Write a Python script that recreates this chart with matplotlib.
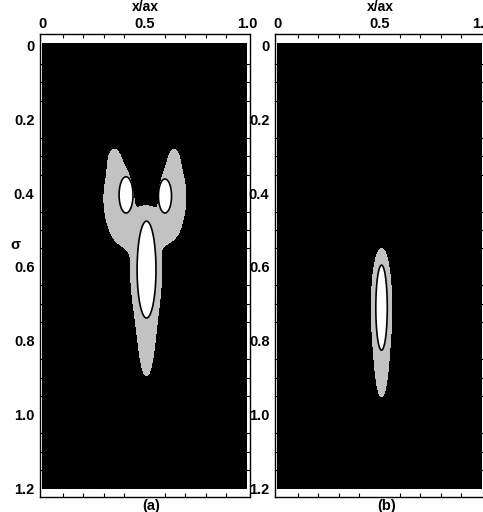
# two panels of sigma vs x/ax: black background, grey band, white cores

# %% imports
import numpy as np
import matplotlib
matplotlib.use("Agg")
import matplotlib.pyplot as plt
from matplotlib.ticker import MultipleLocator


# %% inputs (x/ax, sigma, semi-axes, shape power)
# panel (a) white cores
a_white_x = [0.41, 0.60, 0.51]
a_white_s = [0.405, 0.408, 0.607]
a_white_ax = [0.034, 0.032, 0.046]
a_white_as = [0.049, 0.046, 0.131]
# panel (a) grey region pieces
a_gray_x = [0.37, 0.64, 0.352, 0.645, 0.51, 0.508, 0.51, 0.42, 0.60]
a_gray_s = [0.415, 0.41, 0.315, 0.315, 0.475, 0.61, 0.77, 0.50, 0.495]
a_gray_ax = [0.068, 0.062, 0.025, 0.022, 0.06, 0.075, 0.03, 0.05, 0.045]
a_gray_as = [0.095, 0.09, 0.03, 0.03, 0.03, 0.15, 0.11, 0.035, 0.03]
a_gray_pw = [2, 2, 1, 1, 2, 1, 1, 1, 1]

# panel (b)
b_white_x = [0.51]
b_white_s = [0.71]
b_white_ax = [0.028]
b_white_as = [0.115]
b_gray_x = [0.51, 0.51]
b_gray_s = [0.71, 0.85]
b_gray_ax = [0.05, 0.02]
b_gray_as = [0.16, 0.075]
b_gray_pw = [1, 1]

x_ticks = [0, 0.5, 1.0]
x_labels = ['0', '0.5', '1.0']
s_ticks = [0, 0.2, 0.4, 0.6, 0.8, 1.0, 1.2]
s_labels = ['0', '0.2', '0.4', '0.6', '0.8', '1.0', '1.2']
panel_tags = ['(a)', '(b)']

font = {'family': 'Liberation Sans', 'weight': 'bold', 'size': 10.5}


# %% grid
xg = np.linspace(0, 1, 400)
sg = np.linspace(-0.005, 1.2, 480)
X, S = np.meshgrid(xg, sg)


def gray_field(cx, cs, rx, rs, pw):
    g = np.zeros_like(X)
    for x0, s0, a, b, p in zip(cx, cs, rx, rs, pw):
        r2 = ((X - x0) / a) ** 2 + ((S - s0) / b) ** 2
        g += np.exp(-np.log(2) * r2 ** p)
    return g


def white_field(cx, cs, rx, rs):
    w = np.full_like(X, -10.0)
    for x0, s0, a, b in zip(cx, cs, rx, rs):
        r2 = ((X - x0) / a) ** 2 + ((S - s0) / b) ** 2
        w = np.maximum(w, 1 - r2)
    return w


panels = [
    ((a_gray_x, a_gray_s, a_gray_ax, a_gray_as, a_gray_pw),
     (a_white_x, a_white_s, a_white_ax, a_white_as)),
    ((b_gray_x, b_gray_s, b_gray_ax, b_gray_as, b_gray_pw),
     (b_white_x, b_white_s, b_white_ax, b_white_as)),
]


# %% plot
fig = plt.figure(figsize=(4.83, 5.12), dpi=100)
lefts = [40 / 483, 275 / 483]
w_ax = 210 / 483
b_ax = 1 - 497 / 512
h_ax = (497 - 34) / 512

for i, (gp, wp) in enumerate(panels):
    ax = fig.add_axes([lefts[i], b_ax, w_ax, h_ax])
    G = gray_field(*gp)
    W = white_field(*wp)

    ax.imshow(np.zeros((2, 2)), cmap='gray', vmin=0, vmax=1,
              extent=[0, 1, 1.2, -0.005], aspect='auto', zorder=0)
    ax.contourf(X, S, G, levels=[0.5, 100], colors=['#c2c2c2'], zorder=1)
    ax.contourf(X, S, W, levels=[0, 10], colors=['white'], zorder=2)
    ax.contour(X, S, W, levels=[0], colors='black', linewidths=1.2, zorder=3)

    ax.set_xlim(-0.01, 1.015)
    ax.set_ylim(1.222, -0.03)

    ax.xaxis.tick_top()
    ax.set_xticks(x_ticks)
    ax.set_xticklabels(x_labels, fontdict=font)
    ax.set_yticks(s_ticks)
    ax.set_yticklabels(s_labels, fontdict=font)
    ax.xaxis.set_minor_locator(MultipleLocator(0.1))
    ax.yaxis.set_minor_locator(MultipleLocator(0.05))
    ax.tick_params(which='both', direction='in', top=True, bottom=True,
                   left=True, right=True, length=3, width=0.8)
    ax.tick_params(which='major', length=0)
    ax.tick_params(axis='x', pad=2)
    ax.tick_params(axis='y', pad=4)
    for sp in ax.spines.values():
        sp.set_linewidth(1.0)

    ax.text(0.5, 1.044, 'x/ax', transform=ax.transAxes, ha='center',
            va='bottom', fontdict={**font, 'size': 10})
    ax.text(0.53, -0.004, panel_tags[i], transform=ax.transAxes, ha='center',
            va='top', fontdict=font)

    if i == 0:
        ax.text(-0.13, 0.54, 'σ', ha='center', va='center', clip_on=False,
                fontdict=font)

fig.savefig('out.png', dpi=100)
